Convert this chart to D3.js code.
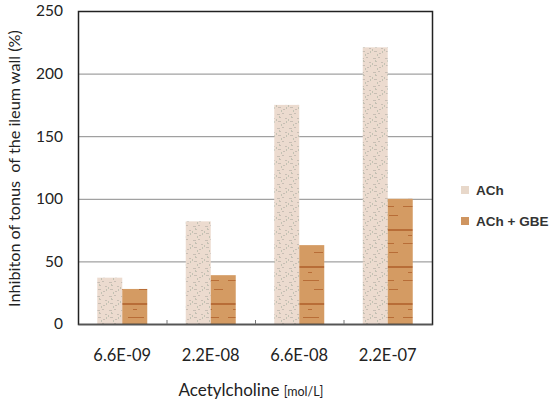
<!DOCTYPE html>
<html>
<head>
<meta charset="utf-8">
<script src="https://cdn.jsdelivr.net/npm/d3@7"></script>
<style>
  body { margin: 0; background: #fff; }
  svg { display: block; }
</style>
</head>
<body>
<svg id="chart"></svg>
<script>
const categories = ["6.6E-09", "2.2E-08", "6.6E-08", "2.2E-07"];
const achValues = [37, 82, 175, 221];
const gbeValues = [28, 39, 63, 100];
const seriesNames = ["ACh", "ACh + GBE"];
const yTicks = [0, 50, 100, 150, 200, 250];

const width = 550, height = 402;
const margin = { top: 11, right: 118, bottom: 78, left: 78 };
const font = "Lato, 'Open Sans', sans-serif";

const svg = d3.select("#chart")
  .attr("width", width)
  .attr("height", height);

// textures for the bars
const defs = svg.append("defs");
const p1 = defs.append("pattern").attr("id", "texAch")
  .attr("patternUnits", "userSpaceOnUse").attr("width", 12).attr("height", 14);
p1.append("rect").attr("width", 12).attr("height", 14).attr("fill", "#ecdbcf");
[[1,2,3],[6,1,2],[9,6,2],[2,9,3],[7,11,2],[4,5,1]].forEach(([x,y,w]) =>
  p1.append("rect").attr("x", x).attr("y", y).attr("width", w).attr("height", 1)
    .attr("fill", "#b9b3a8").attr("opacity", 0.7));
[[3,4],[10,9],[5,12],[0,7]].forEach(([x,y]) =>
  p1.append("rect").attr("x", x).attr("y", y).attr("width", 1).attr("height", 2)
    .attr("fill", "#a9b0a0").attr("opacity", 0.6));

const p2 = defs.append("pattern").attr("id", "texGbe")
  .attr("patternUnits", "userSpaceOnUse").attr("width", 25).attr("height", 37);
p2.append("rect").attr("width", 25).attr("height", 37).attr("fill", "#d49b63");
[[0,7,25,2],[3,21,16,1],[14,30,9,1],[8,13,4,1]].forEach(([x,y,w,h]) =>
  p2.append("rect").attr("x", x).attr("y", y).attr("width", w).attr("height", h)
    .attr("fill", "#b2622c").attr("opacity", 0.8));

const x = d3.scaleBand()
  .domain(categories)
  .range([margin.left, width - margin.right])
  .paddingInner(0)
  .paddingOuter(0);

const y = d3.scaleLinear()
  .domain([0, 250])
  .range([height - margin.bottom, margin.top]);

const barW = 25;

// gridlines
svg.append("g")
  .selectAll("line")
  .data(yTicks.filter(d => d > 0 && d < 250))
  .join("line")
  .attr("x1", margin.left)
  .attr("x2", width - margin.right)
  .attr("y1", d => y(d) + 0.5)
  .attr("y2", d => y(d) + 0.5)
  .attr("stroke", "#8a8a8a")
  .attr("stroke-width", 1);

// bars
const groups = svg.append("g")
  .selectAll("g")
  .data(categories)
  .join("g");

groups.append("rect")
  .attr("x", (d) => x(d) + x.bandwidth() / 2 - barW)
  .attr("y", (d, i) => y(achValues[i]))
  .attr("width", barW)
  .attr("height", (d, i) => y(0) - y(achValues[i]))
  .attr("fill", "url(#texAch)");

groups.append("rect")
  .attr("x", (d) => x(d) + x.bandwidth() / 2)
  .attr("y", (d, i) => y(gbeValues[i]))
  .attr("width", barW)
  .attr("height", (d, i) => y(0) - y(gbeValues[i]))
  .attr("fill", "url(#texGbe)");

// frame
svg.append("rect")
  .attr("x", margin.left + 0.5)
  .attr("y", margin.top + 0.5)
  .attr("width", width - margin.right - margin.left)
  .attr("height", height - margin.bottom - margin.top)
  .attr("fill", "none")
  .attr("stroke", "#222")
  .attr("stroke-width", 1.5);

// y axis
const yAxis = svg.append("g")
  .attr("transform", `translate(${margin.left},0)`)
  .call(d3.axisLeft(y).tickValues(yTicks).tickSize(0).tickPadding(15));
yAxis.select(".domain").remove();
yAxis.selectAll("text")
  .attr("font-family", font)
  .attr("font-size", 15.5)
  .attr("fill", "#222");

// x axis
const xAxis = svg.append("g")
  .attr("transform", `translate(0,${height - margin.bottom})`)
  .call(d3.axisBottom(x).tickSize(0).tickPadding(25));
xAxis.select(".domain").attr("stroke", "#555").attr("stroke-width", 1.5);
xAxis.selectAll("text")
  .attr("font-family", font)
  .attr("font-size", 16.5)
  .attr("fill", "#222");

// small ticks between categories
svg.append("g")
  .selectAll("line")
  .data(categories.slice(1))
  .join("line")
  .attr("x1", d => x(d) + 0.5)
  .attr("x2", d => x(d) + 0.5)
  .attr("y1", y(0))
  .attr("y2", y(0) - 4)
  .attr("stroke", "#777");

// y title
svg.append("text")
  .attr("transform", `translate(20,${(margin.top + height - margin.bottom) / 2 + 1}) rotate(-90)`)
  .attr("text-anchor", "middle")
  .attr("font-family", font)
  .attr("font-size", 16.2)
  .attr("fill", "#222")
  .attr("xml:space", "preserve")
  .text("Inhibiton of tonus  of the ileum wall (%)");

// x title
const xt = svg.append("text")
  .attr("x", 251)
  .attr("y", 396)
  .attr("text-anchor", "middle")
  .attr("font-family", font)
  .attr("fill", "#222");
xt.append("tspan").attr("font-size", 17).text("Acetylcholine ");
xt.append("tspan").attr("font-size", 12.5).text(" [mol/L]");

// legend
const legend = svg.append("g")
  .selectAll("g")
  .data(seriesNames)
  .join("g")
  .attr("transform", (d, i) => `translate(461,${190 + i * 31})`);
legend.append("rect")
  .attr("x", 0).attr("y", -4)
  .attr("width", 8).attr("height", 8)
  .attr("fill", (d, i) => i === 0 ? "#e8d8ca" : "#cf9560");
legend.append("text")
  .attr("x", 15)
  .attr("y", 5)
  .attr("font-family", "'Liberation Sans', Arial, sans-serif")
  .attr("font-weight", "bold")
  .attr("font-size", 13.5)
  .attr("fill", "#333")
  .text(d => d);
</script>
</body>
</html>
